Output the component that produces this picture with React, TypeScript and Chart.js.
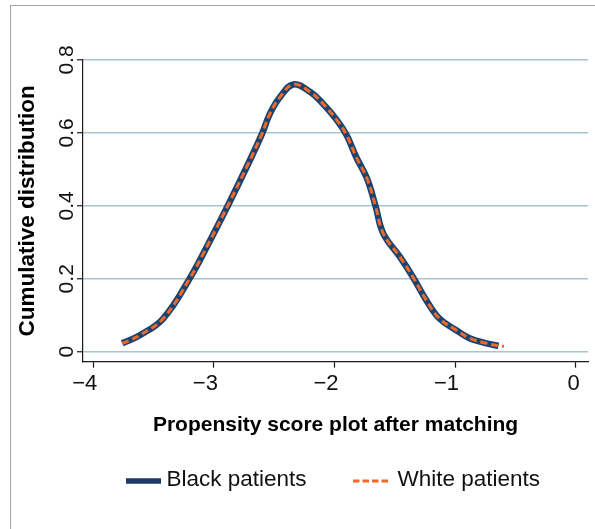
import React, { useEffect, useRef } from "react";
import { Chart, registerables } from "chart.js";

Chart.register(...registerables);

// ---- data ----
const seriesNames = ["Black patients", "White patients"];
const blackX = [-3.76, -3.61, -3.42, -3.2, -3.03, -2.87, -2.72, -2.6, -2.535, -2.45, -2.34, -2.2, -2.095, -1.98, -1.9, -1.82, -1.73, -1.66, -1.595, -1.457, -1.35, -1.24, -1.13, -0.99, -0.88, -0.74, -0.64];
const blackY = [0.023, 0.046, 0.091, 0.201, 0.306, 0.41, 0.512, 0.598, 0.653, 0.699, 0.733, 0.712, 0.68, 0.635, 0.594, 0.534, 0.475, 0.4, 0.324, 0.26, 0.205, 0.142, 0.091, 0.059, 0.037, 0.023, 0.016];
const whiteX = [-3.76, -3.61, -3.42, -3.2, -3.03, -2.87, -2.72, -2.6, -2.535, -2.45, -2.34, -2.2, -2.095, -1.98, -1.9, -1.82, -1.73, -1.66, -1.595, -1.457, -1.35, -1.24, -1.13, -0.99, -0.88, -0.74, -0.64, -0.595];
const whiteY = [0.022, 0.046, 0.091, 0.201, 0.306, 0.41, 0.512, 0.598, 0.653, 0.699, 0.733, 0.712, 0.68, 0.635, 0.594, 0.534, 0.475, 0.4, 0.324, 0.26, 0.205, 0.142, 0.091, 0.059, 0.037, 0.023, 0.016, 0.015];
const xTicks = [-4, -3, -2, -1, 0];
const xTickLabels = ["\u22124", "\u22123", "\u22122", "\u22121", "0"];
const yTicks = [0, 0.2, 0.4, 0.6, 0.8];
const yTickLabels = ["0", "0.2", "0.4", "0.6", "0.8"];
const xTitle = "Propensity score plot after matching";
const yTitle = "Cumulative distribution";

const NAVY = "#1c4470";
const ORANGE = "#f0692a";
const GRID = "#a7c4d1";
const AXIS = "#1a1a1a";
const FONT = '"Liberation Sans", Arial, Helvetica, sans-serif';

const toPts = (xs: number[], ys: number[]) => xs.map((x, i) => ({ x, y: ys[i] }));

const customText = {
  id: "customText",
  afterDraw(chart: any) {
    const ctx = chart.ctx as CanvasRenderingContext2D;
    const ys = chart.scales.y;
    ctx.save();
    // rotated y tick labels
    ctx.fillStyle = "#111";
    ctx.font = `21px ${FONT}`;
    ctx.textAlign = "center";
    ctx.textBaseline = "alphabetic";
    ys.ticks.forEach((t: any, i: number) => {
      const py = ys.getPixelForValue(t.value);
      ctx.save();
      ctx.translate(ys.right - 10.3, py);
      ctx.rotate(-Math.PI / 2);
      ctx.fillText(yTickLabels[i] ?? String(t.value), 0, 0);
      ctx.restore();
    });
    // legend
    const ca = chart.chartArea;
    const cx = (ca.left + ca.right) / 2;
    const legendY = 481;
    const dsBlack = chart.data.datasets[0];
    const dsWhite = chart.data.datasets[1];
    ctx.font = `22.5px ${FONT}`;
    ctx.textAlign = "left";
    ctx.fillStyle = "#111";
    // black item
    const bx = cx - 209.5;
    ctx.beginPath();
    ctx.strokeStyle = "#1b3a68";
    ctx.lineWidth = 5.5;
    ctx.moveTo(bx, legendY);
    ctx.lineTo(bx + 35, legendY);
    ctx.stroke();
    ctx.fillText(dsBlack.label, bx + 40.5, legendY + 5);
    // white item
    const wx = cx + 17.5;
    ctx.beginPath();
    ctx.strokeStyle = dsWhite.borderColor;
    ctx.lineWidth = 3;
    ctx.setLineDash([6.5, 3]);
    ctx.moveTo(wx, legendY);
    ctx.lineTo(wx + 35, legendY);
    ctx.stroke();
    ctx.setLineDash([]);
    ctx.fillText(dsWhite.label, wx + 44.5, legendY + 5);
    ctx.restore();
  },
};

export default function App() {
  const ref = useRef<HTMLCanvasElement | null>(null);
  useEffect(() => {
    if (!ref.current) return;
    Chart.defaults.font.family = FONT;
    Chart.defaults.color = "#111";
    const chart = new Chart(ref.current, {
      type: "line",
      data: {
        datasets: [
          {
            label: seriesNames[0],
            data: toPts(blackX, blackY),
            borderColor: NAVY,
            borderWidth: 6.5,
            pointRadius: 0,
            tension: 0.4,
            fill: false,
            order: 2,
          },
          {
            label: seriesNames[1],
            data: toPts(whiteX, whiteY),
            borderColor: ORANGE,
            borderWidth: 3,
            borderDash: [7, 4],
            pointRadius: 0,
            tension: 0.4,
            fill: false,
            order: 1,
          },
        ],
      },
      options: {
        responsive: false,
        animation: false,
        devicePixelRatio: 1,
        layout: { padding: { top: 60, right: 7, left: 0, bottom: 0 } },
        plugins: {
          legend: { display: false },
          tooltip: { enabled: false },
        },
        scales: {
          x: {
            type: "linear",
            min: -4.085,
            max: 0.102,
            afterBuildTicks: (s: any) => {
              s.ticks = xTicks.map((v) => ({ value: v }));
            },
            afterFit: (s: any) => {
              s.height = 167.3;
            },
            ticks: {
              align: "end",
              labelOffset: 4,
              padding: 3,
              color: "#111",
              font: { size: 22 },
              maxRotation: 0,
              minRotation: 0,
              callback: (v: any) => {
                const i = xTicks.indexOf(Number(v));
                return i >= 0 ? xTickLabels[i] : "";
              },
            },
            grid: {
              drawOnChartArea: false,
              drawTicks: true,
              tickLength: 6,
              tickColor: AXIS,
              tickWidth: 1.2,
            },
            border: { display: true, color: AXIS, width: 1.2 },
            title: {
              display: true,
              text: xTitle,
              color: "#000",
              font: { size: 21, weight: "bold" },
              padding: { top: 0, bottom: 91 },
            },
          },
          y: {
            type: "linear",
            min: -0.0274,
            max: 0.8,
            afterBuildTicks: (s: any) => {
              s.ticks = yTicks.map((v) => ({ value: v }));
            },
            afterFit: (s: any) => {
              s.width = 83;
            },
            ticks: { display: false },
            grid: {
              color: GRID,
              lineWidth: 1.5,
              drawTicks: true,
              tickLength: 6,
              tickColor: AXIS,
              tickWidth: 1.2,
            },
            border: { display: true, color: AXIS, width: 1.2 },
            title: {
              display: true,
              text: yTitle,
              color: "#000",
              font: { size: 22.5, weight: "bold" },
              padding: { top: 14.5, bottom: 0 },
            },
          },
        },
      },
      plugins: [customText],
    });
    return () => chart.destroy();
  }, []);

  return (
    <div style={{ position: "absolute", left: 0, top: 0, width: 595, height: 529, overflow: "hidden", background: "#fff" }}>
      <div
        style={{
          position: "absolute",
          left: 10,
          top: 5,
          width: 640,
          height: 600,
          border: "1.5px solid #a3a3a3",
          boxSizing: "border-box",
        }}
      />
      <canvas ref={ref} width={595} height={529} style={{ position: "absolute", left: 0, top: 0, width: 595, height: 529 }} />
    </div>
  );
}
